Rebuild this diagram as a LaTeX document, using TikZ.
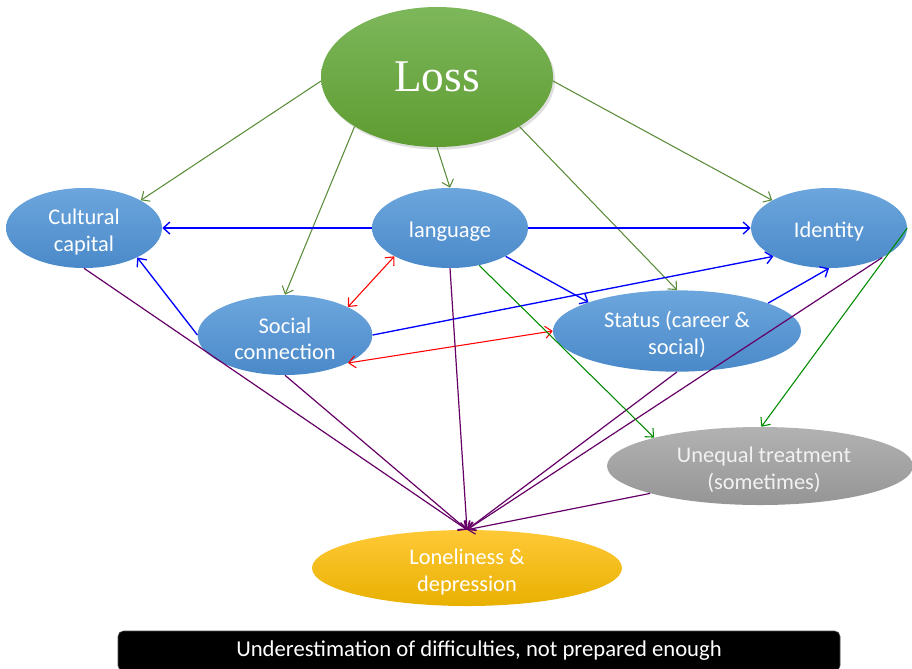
\documentclass[tikz,border=0pt]{standalone}
\usepackage{fontspec}
\setmainfont{Carlito}
\newfontfamily\lossfont{Liberation Serif}
\usetikzlibrary{shapes.geometric,arrows.meta,shadows}
\definecolor{bluetop}{HTML}{6CA6DD}
\definecolor{bluebot}{HTML}{4A89C9}
\definecolor{greentop}{HTML}{7DB75B}
\definecolor{greenbot}{HTML}{5E9C31}
\definecolor{graytop}{HTML}{B2B2B2}
\definecolor{graybot}{HTML}{959595}
\definecolor{yeltop}{HTML}{FFC937}
\definecolor{yelbot}{HTML}{E8B000}
\definecolor{olivearr}{HTML}{5B8C3A}
\definecolor{purparr}{HTML}{660066}
\definecolor{dkgreen}{HTML}{008A00}
\newcommand\tstrut{\rule{0pt}{17.5pt}}
\tikzset{
  ell/.style={ellipse, inner sep=0pt, text=white, align=center,
    font=\fontsize{16.8}{20}\selectfont, shading=axis},
  bluell/.style={ell, top color=bluetop, bottom color=bluebot},
  arr/.style={-{Straight Barb[length=5pt,width=9pt]}, line width=0.8pt},
  darr/.style={{Straight Barb[length=5pt,width=9pt]}-{Straight Barb[length=5pt,width=9pt]}, line width=0.8pt},
  gline/.style={arr, draw=olivearr},
  bline/.style={arr, draw=blue, line width=1pt},
  rline/.style={darr, draw=red},
  pline/.style={arr, draw=purparr, line width=0.9pt},
  dgline/.style={arr, draw=dkgreen},
}
\begin{document}
\begin{tikzpicture}[x=0.75pt,y=-0.75pt]
\useasboundingbox (0,0) rectangle (912,668);
% nodes
\node[ell, top color=greentop, bottom color=greenbot, minimum width=174pt, minimum height=105pt,
  drop shadow={opacity=0.25, shadow xshift=1.5pt, shadow yshift=-2pt},
  font=\lossfont\fontsize{34}{40}\selectfont] (loss) at (437,77) {Loss};
\node[bluell, minimum width=117pt, minimum height=60pt] (cc) at (84,228) {\tstrut Cultural\\capital};
\node[bluell, minimum width=117pt, minimum height=60pt] (lang) at (450,228) {\tstrut language};
\node[bluell, minimum width=117pt, minimum height=60pt] (id) at (829,228) {\tstrut Identity};
\node[bluell, minimum width=131pt, minimum height=60pt] (soc) at (285,335) {\tstrut Social\\connection};
\node[bluell, minimum width=186pt, minimum height=61pt] (stat) at (677,331) {\tstrut Status (career \&\\social)};
\node[ell, top color=graytop, bottom color=graybot, text=white!95!black, minimum width=229.5pt, minimum height=58.5pt] (uneq) at (760,466) {\tstrut\hspace*{6pt}Unequal treatment\\\hspace*{6pt}(sometimes)};
\node[ell, top color=yeltop, bottom color=yelbot, minimum width=232.5pt, minimum height=57pt] (lon) at (467,568) {\tstrut Loneliness \&\\depression};
\node[draw=black!70, fill=black, rounded corners=4pt, minimum width=541.5pt, minimum height=30pt, inner sep=0pt,
  text=white, font=\fontsize{17}{20}\selectfont] (bar) at (479,651) {Underestimation of difficulties, not prepared enough};
% olive arrows from Loss
\draw[gline] (loss.182) -- (cc.26.6);
\draw[gline] (loss.211.4) -- (soc.north);
\draw[gline] (loss.south) -- (lang.north);
\draw[gline] (loss.329) -- (stat.north);
\draw[gline] (loss.358.5) -- (id.154.3);
% blue arrows
\draw[bline] (lang.west) -- (cc.east);
\draw[bline] (lang.east) -- (id.west);
\draw[bline] (lang.333) -- (stat.162.3);
\draw[bline] (soc.east) -- (id.207.4);
\draw[bline] (soc.west) -- (cc.331.8);
\draw[bline] (stat.17.8) -- (id.south);
% red double arrows
\draw[rline] (soc.24) -- (lang.207.8);
\draw[rline] (soc.336.8) -- (stat.west);
% purple arrows to loneliness
\draw[pline] (cc.south) -- (lon.north);
\draw[pline] (soc.south) -- (lon.north);
\draw[pline] (lang.south) -- (lon.north);
\draw[pline] (stat.south) -- (lon.north);
\draw[pline] (id.331.8) -- (lon.north);
\draw[pline] (uneq.194.2) -- (lon.north);
% dark green arrows to unequal treatment
\draw[dgline] (lang.308) -- (uneq.165.3);
\draw[dgline] (id.east) -- (uneq.88);
\end{tikzpicture}
\end{document}
